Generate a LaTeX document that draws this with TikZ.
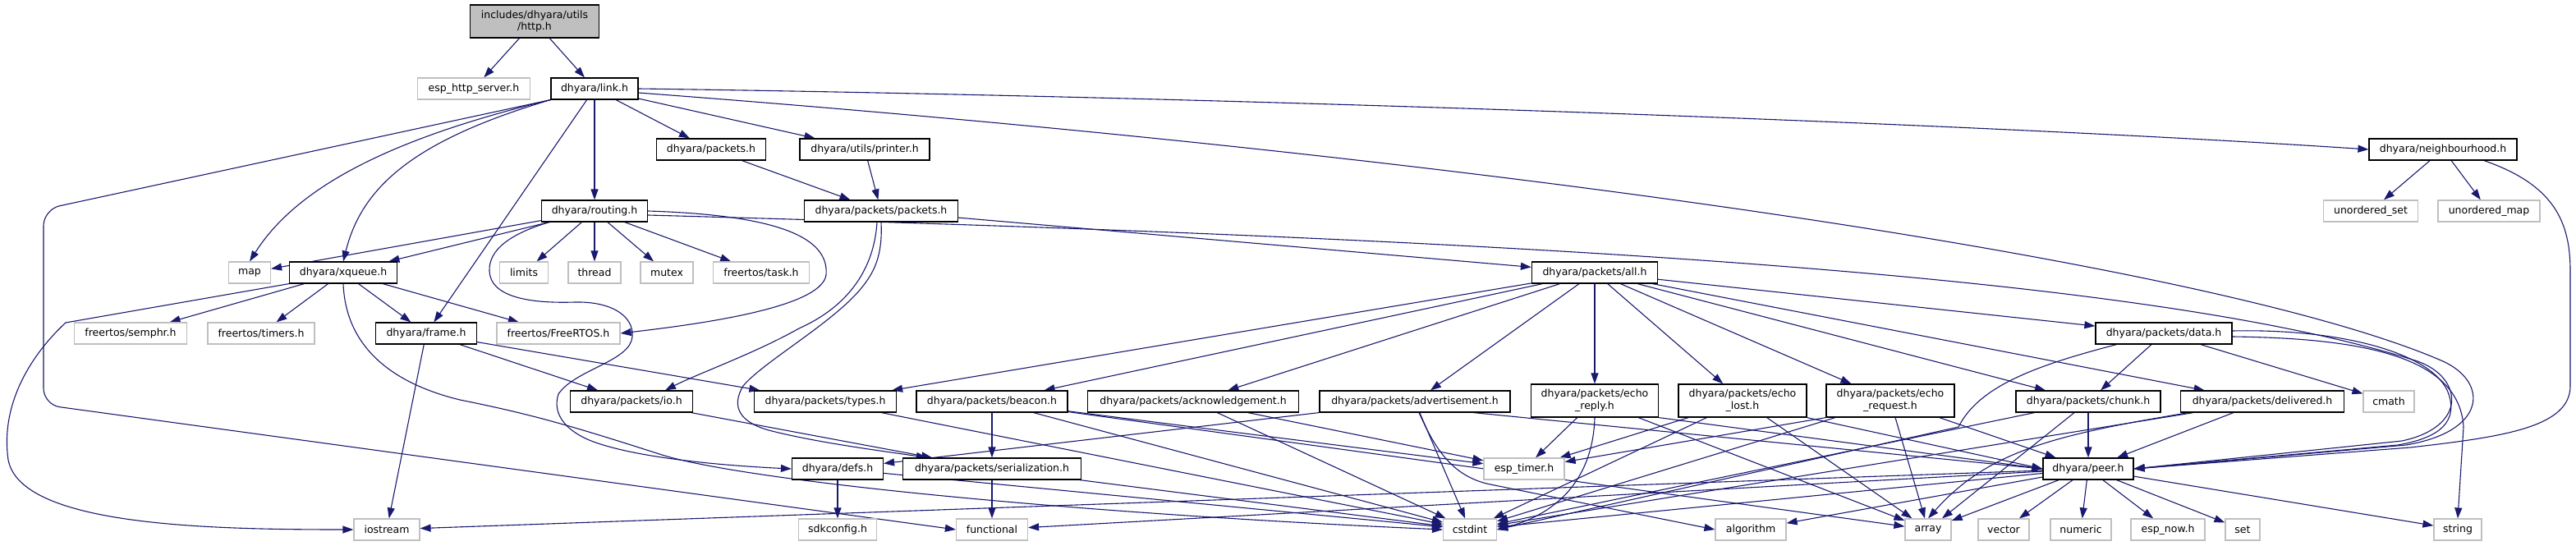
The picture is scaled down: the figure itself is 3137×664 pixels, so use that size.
\documentclass[tikz,border=0pt]{standalone}
\usepackage{fontspec}
\newfontfamily\dvs{DejaVu Sans}
\usetikzlibrary{arrows.meta,calc,backgrounds}
\definecolor{edgec}{HTML}{191970}
\definecolor{gr}{HTML}{BFBFBF}
\begin{document}
\begin{tikzpicture}[x=0.5pt,y=-0.5pt,
 box/.style={rectangle, line width=0.6pt, minimum height=13pt, inner xsep=1pt, inner ysep=0pt, font=\dvs\fontsize{6.25}{7.3}\selectfont},
 doc/.style={box, draw=black, fill=white},
 ext/.style={box, draw=gr, fill=white},
 bw/.style={minimum width=#1*0.5pt},
 two/.style={minimum height=20pt, align=center},
 dep/.style={draw=edgec, line width=0.55pt, -{Triangle[length=6.5pt,width=4.5pt]}}
]
\useasboundingbox (0,0) rectangle (3137,664);
% nodes
\node[doc,fill=gr,bw=157,two] (root) at (651,26) {includes/dhyara/utils\\/http.h};
\node[ext,bw=137] (esphttp) at (577,108) {esp\_http\_server.h};
\node[doc,bw=106] (link) at (724,108) {dhyara/link.h};
\node[doc,bw=133] (pkts) at (866,182) {dhyara/packets.h};
\node[doc,bw=158] (printer) at (1053,182) {dhyara/utils/printer.h};
\node[doc,bw=180] (neigh) at (2975,182) {dhyara/neighbourhood.h};
\node[doc,bw=129] (routing) at (724,257) {dhyara/routing.h};
\node[doc,bw=187] (pp) at (1073,257) {dhyara/packets/packets.h};
\node[ext,bw=115] (uset) at (2887,257) {unordered\_set};
\node[ext,bw=124] (umap) at (3031,257) {unordered\_map};
\node[ext,bw=51] (map) at (304,332) {map};
\node[doc,bw=131] (xq) at (418,332) {dhyara/xqueue.h};
\node[ext,bw=59] (limits) at (638,332) {limits};
\node[ext,bw=64] (thread) at (724,332) {thread};
\node[ext,bw=64] (mutex) at (812,332) {mutex};
\node[ext,bw=117] (task) at (927,332) {freertos/task.h};
\node[doc,bw=153] (all) at (1942,332) {dhyara/packets/all.h};
\node[ext,bw=137] (semphr) at (159,406) {freertos/semphr.h};
\node[ext,bw=130] (timers) at (318,406) {freertos/timers.h};
\node[doc,bw=123] (frame) at (519,406) {dhyara/frame.h};
\node[ext,bw=150] (frtos) at (680,406) {freertos/FreeRTOS.h};
\node[doc,bw=166] (data) at (2635,406) {dhyara/packets/data.h};
\node[doc,bw=149] (io) at (769,489) {dhyara/packets/io.h};
\node[doc,bw=173] (types) at (1005,489) {dhyara/packets/types.h};
\node[doc,bw=184] (beacon) at (1208,489) {dhyara/packets/beacon.h};
\node[doc,bw=257] (ack) at (1453,489) {dhyara/packets/acknowledgement.h};
\node[doc,bw=232] (adv) at (1723,489) {dhyara/packets/advertisement.h};
\node[doc,bw=155,two] (erep) at (1942,488) {dhyara/packets/echo\\\_reply.h};
\node[doc,bw=156,two] (elost) at (2122,488) {dhyara/packets/echo\\\_lost.h};
\node[doc,bw=156,two] (ereq) at (2302,488) {dhyara/packets/echo\\\_request.h};
\node[doc,bw=176] (chunk) at (2543,489) {dhyara/packets/chunk.h};
\node[doc,bw=199] (deliv) at (2755,489) {dhyara/packets/delivered.h};
\node[ext,bw=62] (cmath) at (2909,489) {cmath};
\node[doc,bw=111] (defs) at (1020,571) {dhyara/defs.h};
\node[doc,bw=217] (ser) at (1208,571) {dhyara/packets/serialization.h};
\node[ext,bw=98] (esptimer) at (1856,571) {esp\_timer.h};
\node[doc,bw=110] (peer) at (2543,571) {dhyara/peer.h};
\node[ext,bw=80] (iostream) at (471,645) {iostream};
\node[ext,bw=95] (sdk) at (1020,645) {sdkconfig.h};
\node[ext,bw=87] (functional) at (1208,645) {functional};
\node[ext,bw=65] (cstdint) at (1790,645) {cstdint};
\node[ext,bw=86] (algorithm) at (2132,645) {algorithm};
\node[ext,bw=56] (array) at (2348,645) {array};
\node[ext,bw=62] (vector) at (2440,645) {vector};
\node[ext,bw=74] (numeric) at (2534,645) {numeric};
\node[ext,bw=90] (espnow) at (2640,645) {esp\_now.h};
\node[ext,bw=42] (setn) at (2731,645) {set};
\node[ext,bw=58] (string) at (2993,645) {string};
% edges
\begin{scope}[on background layer]
\draw[dep] (root) -- (esphttp);
\draw[dep] (root) -- (link);
% link.h
\draw[dep] (link.south west) .. controls (470,170) and (360,230) .. (map.north);
\draw[dep] (link.south west) .. controls (500,172) and (440,230) .. (xq.north);
\draw[dep,rounded corners=10pt] (link.south west) -- (53,255) -- (53,493) -- (functional.west);
\draw[dep] (link) -- (frame);
\draw[dep] (link) -- (routing);
\draw[dep] (link) -- (pkts);
\draw[dep] (link) -- (printer);
\draw[dep] (link.east) .. controls (1500,118) and (2400,150) .. (neigh.west);
\draw[dep] ($(link.east)+(0,5)$) .. controls (1800,190) and (2700,320) .. (2975,440) .. controls (3030,465) and (3030,525) .. (2930,542) -- (peer.east);
% routing.h
\draw[dep] (routing) -- (map);
\draw[dep] (routing) -- (xq);
\draw[dep] (routing) -- (limits);
\draw[dep] (routing) -- (thread);
\draw[dep] (routing) -- (mutex);
\draw[dep] (routing) -- (task);
\draw[dep] (routing.east) .. controls (950,262) and (1010,290) .. (1006,335) .. controls (1000,375) and (850,395) .. (frtos.east);
\draw[dep] ($(routing.south west)+(10,0)$) .. controls (620,285) and (595,305) .. (596,330) .. controls (597,360) and (640,370) .. (700,368) .. controls (745,367) and (772,385) .. (770,410) .. controls (768,440) and (700,450) .. (680,480) .. controls (672,505) and (690,525) .. (720,537) .. controls (780,560) and (900,568) .. (defs.west);
\draw[dep] ($(routing.east)+(0,5)$) .. controls (1800,290) and (2600,330) .. (2944,440) .. controls (3000,460) and (3005,520) .. (2925,537) -- (peer.east);
% packets
\draw[dep] (pkts) -- (pp);
\draw[dep] (printer) -- (pp);
\draw[dep] (pp) -- (all);
\draw[dep] ($(pp.south)+(-5,0)$) .. controls (1065,320) and (1040,370) .. (973,400) .. controls (920,430) and (850,455) .. ($(io.north)+(41,0)$);
\draw[dep] (pp.south) .. controls (1075,310) and (1065,330) .. (1052,347) .. controls (1020,390) and (930,440) .. (905,470) .. controls (890,495) and (900,515) .. (940,525) .. controls (1000,540) and (1080,550) .. ($(ser.north west)+(30,0)$);
% xqueue.h
\draw[dep] (xq.south west) -- (80,393) .. controls (40,430) and (0,490) .. (10,560) .. controls (25,640) and (250,645) .. (iostream.west);
\draw[dep] (xq) -- (semphr);
\draw[dep] (xq) -- (timers);
\draw[dep] (xq) -- (frame);
\draw[dep] (xq) -- (frtos);
\draw[dep] (xq.south) .. controls (420,400) and (450,460) .. (560,487) .. controls (650,505) and (700,520) .. (803,553) .. controls (900,585) and (1300,625) .. (cstdint.west);
% frame.h
\draw[dep] (frame) -- (iostream);
\draw[dep] (frame) -- (io);
\draw[dep] (frame) -- (types);
\draw[dep] (io) -- (ser);
% neighbourhood.h
\draw[dep] (neigh) -- (uset);
\draw[dep] (neigh) -- (umap);
\draw[dep] ($(neigh.south)+(50,0)$) .. controls (3110,225) and (3130,270) .. (3130,330) -- (3130,470) .. controls (3130,520) and (3050,532) .. (2935,545) -- (peer.east);
% all.h
\draw[dep] (all) -- (types);
\draw[dep] (all) -- (beacon);
\draw[dep] (all) -- (ack);
\draw[dep] (all) -- (adv);
\draw[dep] (all) -- (erep);
\draw[dep] (all) -- (elost);
\draw[dep] (all) -- (ereq);
\draw[dep] (all) -- (chunk);
\draw[dep] (all) -- (deliv);
\draw[dep] (all) -- (data);
% packet headers
\draw[dep] (types) -- (cstdint);
\draw[dep] (beacon) -- (ser);
\draw[dep] (beacon) -- (cstdint);
\draw[dep] (beacon) -- (esptimer);
\draw[dep] (beacon) -- (array);
\draw[dep] (ack) -- (cstdint);
\draw[dep] (ack) -- (esptimer);
\draw[dep] (adv) -- (defs);
\draw[dep] (adv) -- (cstdint);
\draw[dep] ($(adv.south)+(5,0)$) .. controls (1745,540) and (1765,580) .. (1815,590) -- (algorithm.west);
\draw[dep] ($(adv.south east)+(-45,0)$) -- (peer.west);
\draw[dep] (erep) -- (esptimer);
\draw[dep] (erep.south) .. controls (1940,580) and (1900,625) .. (cstdint.east);
\draw[dep] (erep) -- (array);
\draw[dep] (erep.south east) -- (peer.west);
\draw[dep] (elost) -- (esptimer);
\draw[dep] (elost) -- (cstdint);
\draw[dep] (elost) -- (array);
\draw[dep] (elost.south east) -- (peer.west);
\draw[dep] (ereq.south west) -- (esptimer);
\draw[dep] (ereq) -- (cstdint);
\draw[dep] (ereq) -- (array);
\draw[dep] (ereq) -- (peer);
\draw[dep] (chunk) -- (cstdint);
\draw[dep] (chunk) -- (array);
\draw[dep] (chunk) -- (peer);
\draw[dep] (deliv) -- (cstdint);
\draw[dep] ($(deliv.south west)+(10,0)$) .. controls (2500,530) and (2420,550) .. (array.north);
\draw[dep] (deliv) -- (peer);
\draw[dep] (data) -- (chunk);
\draw[dep] (data) -- (cmath);
\draw[dep] ($(data.east)+(0,-3)$) .. controls (2850,400) and (2965,430) .. (2982,480) .. controls (2995,520) and (2960,535) .. (2920,542) -- (peer.east);
\draw[dep] ($(data.east)+(0,4)$) .. controls (2880,412) and (2995,435) .. (3000,520) -- (string.north);
\draw[dep] ($(data.south west)+(26,0)$) .. controls (2480,445) and (2410,470) .. (2385,520) -- (cstdint.east);
\draw[dep] (defs) -- (sdk);
\draw[dep] (defs) -- (cstdint);
\draw[dep] (ser) -- (functional);
\draw[dep] (ser) -- (cstdint);
% peer.h
\draw[dep] (peer) -- (iostream);
\draw[dep] (peer) -- (functional);
\draw[dep] (peer) -- (cstdint);
\draw[dep] (peer) -- (algorithm);
\draw[dep] (peer) -- (array);
\draw[dep] (peer) -- (vector);
\draw[dep] (peer) -- (numeric);
\draw[dep] (peer) -- (espnow);
\draw[dep] (peer) -- (setn);
\draw[dep] (peer) -- (string);
\end{scope}
\end{tikzpicture}
\end{document}
